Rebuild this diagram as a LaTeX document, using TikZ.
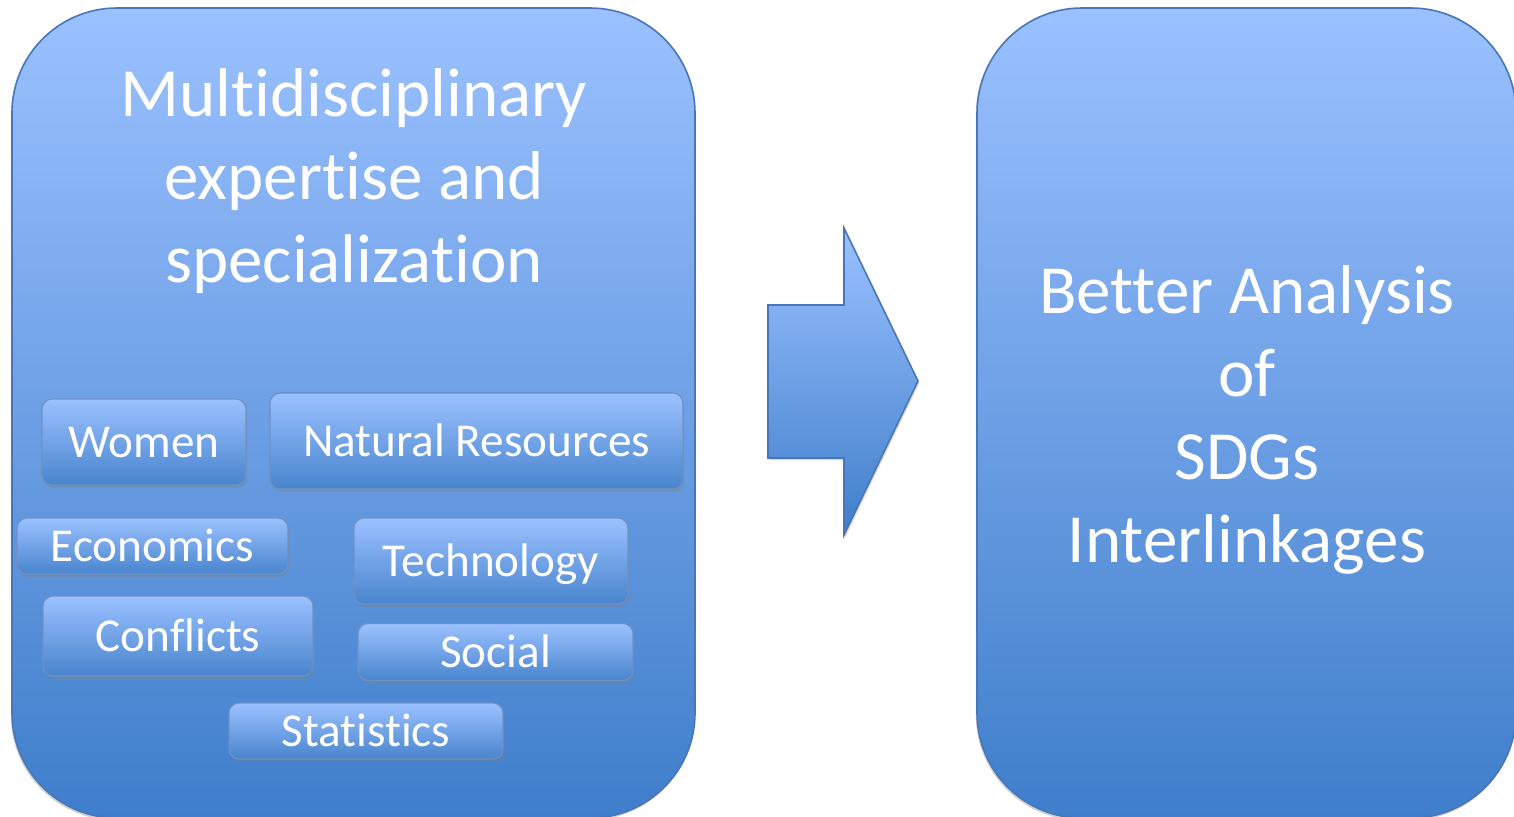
\documentclass[tikz,border=0pt]{standalone}
\usepackage{fontspec}
\setmainfont{Carlito}[Ligatures={NoCommon}]
\usetikzlibrary{positioning,shadows}
\definecolor{boxtop}{RGB}{155,193,255}
\definecolor{boxbot}{RGB}{63,126,203}
\definecolor{boxline}{RGB}{72,118,182}

\begin{document}
\begin{tikzpicture}[x=0.5pt,y=-0.5pt,semithick,
  panel/.style={rectangle,rounded corners=52.5pt,draw=boxline,line width=0.8pt,
    top color=boxtop,bottom color=boxbot,text=white,
    drop shadow={opacity=0.35,shadow xshift=-0.6pt,shadow yshift=-1.2pt}},
  tag/.style={rectangle,rounded corners=5pt,draw=boxline!80,line width=0.6pt,
    top color=boxtop,bottom color=boxbot!95!white,text=white,inner sep=0pt,
    font=\fontsize{23.6}{28}\selectfont,text height=15.2pt,text depth=0pt,
    drop shadow={opacity=0.4,shadow xshift=0.6pt,shadow yshift=-1.4pt}},
  big/.style={text=white,align=center,font=\fontsize{34.5}{41.5}\selectfont}]
\useasboundingbox (0,0) rectangle (1514,816);
\clip (0,0) rectangle (1514,816);

\node[panel,minimum width=341.5pt,minimum height=405pt] (L) at (353.5,413) {};
\node[panel,minimum width=269.5pt,minimum height=405pt] (R) at (1246.5,413) {};

\node[big] (Ltxt) at (354,181) {Multidisciplinary\\expertise and\\specialization};
\node[big] (Rtxt) at (1247,420) {Better Analysis\\of\\SDGs\\Interlinkages};

\node[tag,minimum width=102pt,minimum height=43pt] (W) at (144,442) {Women};
\node[tag,minimum width=206.5pt,minimum height=48pt] (N) at (476.5,441) {Natural Resources};
\node[tag,minimum width=135.5pt,minimum height=28pt] (E) at (152.5,546) {Economics};
\node[tag,minimum width=137pt,minimum height=43pt] (T) at (491,561) {Technology};
\node[tag,minimum width=135pt,minimum height=40pt] (C) at (178,636) {Conflicts};
\node[tag,minimum width=137.5pt,minimum height=28.5pt] (S) at (495.5,652) {Social};
\node[tag,minimum width=137pt,minimum height=28pt] (St) at (366,731) {Statistics};

\draw[draw=boxline,line width=0.8pt,top color=boxtop,bottom color=boxbot,
  drop shadow={opacity=0.3,shadow xshift=0.6pt,shadow yshift=-1.2pt}]
  (768,305) -- (844,305) -- (844,228) -- (918,381) -- (844,535) -- (844,458) -- (768,458) -- cycle;
\end{tikzpicture}
\end{document}
